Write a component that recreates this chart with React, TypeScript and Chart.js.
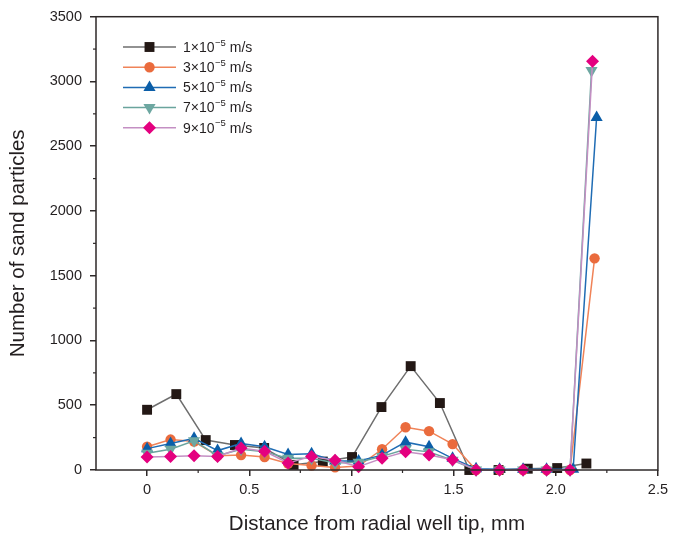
import React, { useEffect, useRef } from 'react';
import { Chart, registerables } from 'chart.js';

Chart.register(...registerables);

// Distances (mm) for each series
const xBlack = [0, 0.143, 0.287, 0.43, 0.573, 0.717, 0.86, 1.003, 1.147, 1.29, 1.433, 1.577, 1.72, 1.863, 2.007, 2.15];
const xOrange = [0, 0.115, 0.23, 0.345, 0.46, 0.575, 0.69, 0.805, 0.92, 1.035, 1.15, 1.265, 1.38, 1.495, 1.61, 1.725, 1.84, 1.955, 2.07, 2.19];
const xBlue = [0, 0.115, 0.23, 0.345, 0.46, 0.575, 0.69, 0.805, 0.92, 1.035, 1.15, 1.265, 1.38, 1.495, 1.61, 1.725, 1.84, 1.955, 2.085, 2.2];
const xTeal = [0, 0.115, 0.23, 0.345, 0.46, 0.575, 0.69, 0.805, 0.92, 1.035, 1.15, 1.265, 1.38, 1.495, 1.61, 1.725, 1.84, 1.955, 2.07, 2.175];
const xPink = [0, 0.115, 0.23, 0.345, 0.46, 0.575, 0.69, 0.805, 0.92, 1.035, 1.15, 1.265, 1.38, 1.495, 1.61, 1.725, 1.84, 1.955, 2.07, 2.18];

// Number of sand particles
const yBlack = [465, 586, 231, 193, 170, 40, 65, 100, 486, 802, 517, 0, 0, 10, 15, 50];
const yOrange = [180, 235, 220, 110, 115, 100, 50, 35, 20, 30, 160, 330, 300, 200, 0, 0, 0, 0, 0, 1634];
const yBlue = [165, 205, 245, 150, 205, 180, 120, 125, 70, 70, 115, 215, 180, 90, 10, 5, 5, 5, 5, 2722];
const yTeal = [130, 160, 225, 110, 160, 140, 90, 90, 55, 60, 105, 160, 140, 75, 0, 0, 0, 0, 0, 3084];
const yPink = [100, 105, 110, 105, 170, 145, 55, 105, 75, 25, 90, 140, 115, 80, 0, 0, 0, 0, 0, 3156];

const seriesLabels = ['1', '3', '5', '7', '9'];
const yTicks = [0, 500, 1000, 1500, 2000, 2500, 3000, 3500];
const xTicks = [0, 0.5, 1.0, 1.5, 2.0, 2.5];

const FONT = '"Liberation Sans", Arial, Helvetica, sans-serif';
const TEXT = '#231f20';
const AXIS = '#2e2929';

const lineColors = ['#6e6e6e', '#f08358', '#1f6cb4', '#6aa49d', '#c48fc3'];
const markerColors = ['#231815', '#ea6b3d', '#0b5ea8', '#6da7a1', '#e4007f'];
const markerStyles = ['rect', 'circle', 'triangle', 'triangle', 'rectRot'];
const markerRot = [0, 0, 0, 180, 0];
const markerRadius = [7, 5.2, 7, 7, 6.5];

function pts(xs: number[], ys: number[]) {
  return xs.map((x, i) => ({ x, y: ys[i] }));
}

function drawMarker(ctx: CanvasRenderingContext2D, style: string, rot: number, r: number, x: number, y: number) {
  ctx.beginPath();
  if (style === 'rect') {
    const s = Math.SQRT1_2 * r;
    ctx.rect(x - s, y - s, 2 * s, 2 * s);
  } else if (style === 'circle') {
    ctx.arc(x, y, r, 0, Math.PI * 2);
  } else if (style === 'triangle') {
    let rad = (rot * Math.PI) / 180;
    for (let k = 0; k < 3; k++) {
      const px = x + Math.sin(rad) * r;
      const py = y - Math.cos(rad) * r;
      if (k === 0) ctx.moveTo(px, py);
      else ctx.lineTo(px, py);
      rad += (2 * Math.PI) / 3;
    }
    ctx.closePath();
  } else if (style === 'rectRot') {
    ctx.moveTo(x, y - r);
    ctx.lineTo(x + r, y);
    ctx.lineTo(x, y + r);
    ctx.lineTo(x - r, y);
    ctx.closePath();
  }
  ctx.fill();
}

const frame = {
  id: 'frame',
  afterDraw(chart: any) {
    const { ctx, chartArea: a, scales } = chart;
    ctx.save();
    ctx.strokeStyle = AXIS;
    ctx.lineWidth = 1.5;
    ctx.strokeRect(a.left, a.top, a.right - a.left, a.bottom - a.top);
    ctx.lineWidth = 1.2;
    // minor ticks
    for (let k = 0; k < yTicks.length - 1; k++) {
      const v = (yTicks[k] + yTicks[k + 1]) / 2;
      const py = scales.y.getPixelForValue(v);
      ctx.beginPath();
      ctx.moveTo(a.left - 3, py);
      ctx.lineTo(a.left, py);
      ctx.stroke();
    }
    for (let k = 0; k < xTicks.length - 1; k++) {
      const v = (xTicks[k] + xTicks[k + 1]) / 2;
      const px = scales.x.getPixelForValue(v);
      ctx.beginPath();
      ctx.moveTo(px, a.bottom);
      ctx.lineTo(px, a.bottom + 3);
      ctx.stroke();
    }
    ctx.restore();
  },
};

const legend = {
  id: 'customLegend',
  afterDraw(chart: any) {
    const { ctx } = chart;
    ctx.save();
    for (let i = 0; i < seriesLabels.length; i++) {
      const y = 47 + i * 20.2;
      ctx.strokeStyle = lineColors[i];
      ctx.lineWidth = 1.5;
      ctx.beginPath();
      ctx.moveTo(123, y);
      ctx.lineTo(176, y);
      ctx.stroke();
      ctx.fillStyle = markerColors[i];
      drawMarker(ctx, markerStyles[i], markerRot[i], markerRadius[i], 149.5, y);
      ctx.fillStyle = TEXT;
      ctx.textBaseline = 'middle';
      ctx.textAlign = 'left';
      ctx.font = `14px ${FONT}`;
      let tx = 183;
      const main = `${seriesLabels[i]}×10`;
      ctx.fillText(main, tx, y + 1);
      tx += ctx.measureText(main).width + 0.5;
      ctx.font = `9.5px ${FONT}`;
      const sup = '−5';
      ctx.fillText(sup, tx, y - 4);
      tx += ctx.measureText(sup).width;
      ctx.font = `14px ${FONT}`;
      ctx.fillText(' m/s', tx, y + 1);
    }
    ctx.restore();
  },
};

export default function App() {
  const ref = useRef<HTMLCanvasElement>(null);
  useEffect(() => {
    document.body.style.margin = '0';
    const canvas = ref.current!;
    const xsList = [xBlack, xOrange, xBlue, xTeal, xPink];
    const ysList = [yBlack, yOrange, yBlue, yTeal, yPink];
    const datasets = seriesLabels.map((lab, i) => ({
      label: `${lab}×10⁻⁵ m/s`,
      data: pts(xsList[i], ysList[i]),
      borderColor: lineColors[i],
      backgroundColor: markerColors[i],
      borderWidth: 1.5,
      pointStyle: markerStyles[i],
      pointRotation: markerRot[i],
      pointRadius: markerRadius[i],
      pointBorderWidth: 0,
      pointBackgroundColor: markerColors[i],
      pointBorderColor: markerColors[i],
      tension: 0,
      clip: false as any,
      order: 4 - i,
    }));
    const chart = new Chart(canvas, {
      type: 'line',
      data: { datasets },
      options: {
        animation: false,
        responsive: false,
        layout: { padding: { top: 16, right: 13, left: 0, bottom: 0 } },
        plugins: { legend: { display: false }, tooltip: { enabled: false } },
        scales: {
          x: {
            type: 'linear',
            min: -0.25,
            max: 2.5,
            afterBuildTicks: (s: any) => {
              s.ticks = xTicks.map((v) => ({ value: v }));
            },
            afterFit: (s: any) => {
              s.height = 75;
            },
            ticks: {
              font: { family: FONT, size: 14.5 },
              color: TEXT,
              padding: 5,
              maxRotation: 0,
              autoSkip: false,
              callback: (v: any) => (Number(v) === 0 ? '0' : Number(v).toFixed(1)),
            },
            grid: { drawOnChartArea: false, tickLength: 6, color: AXIS, lineWidth: 1.5 },
            border: { display: false },
            title: {
              display: true,
              text: 'Distance from radial well tip, mm',
              font: { family: FONT, size: 20.5 },
              color: TEXT,
              padding: { top: 0, bottom: 8 },
            },
          },
          y: {
            type: 'linear',
            min: 0,
            max: 3500,
            afterBuildTicks: (s: any) => {
              s.ticks = yTicks.map((v) => ({ value: v }));
            },
            afterFit: (s: any) => {
              s.width = 96;
            },
            ticks: {
              font: { family: FONT, size: 14.5 },
              color: TEXT,
              padding: 8,
              autoSkip: false,
              callback: (v: any) => String(v),
            },
            grid: { drawOnChartArea: false, tickLength: 6, color: AXIS, lineWidth: 1.5 },
            border: { display: false },
            title: {
              display: true,
              text: 'Number of sand particles',
              font: { family: FONT, size: 20.5 },
              color: TEXT,
              padding: { top: 6.5, bottom: 0 },
            },
          },
        },
      },
      plugins: [frame, legend],
    });
    return () => chart.destroy();
  }, []);
  return <canvas ref={ref} width={673} height={545} style={{ display: 'block' }} />;
}
